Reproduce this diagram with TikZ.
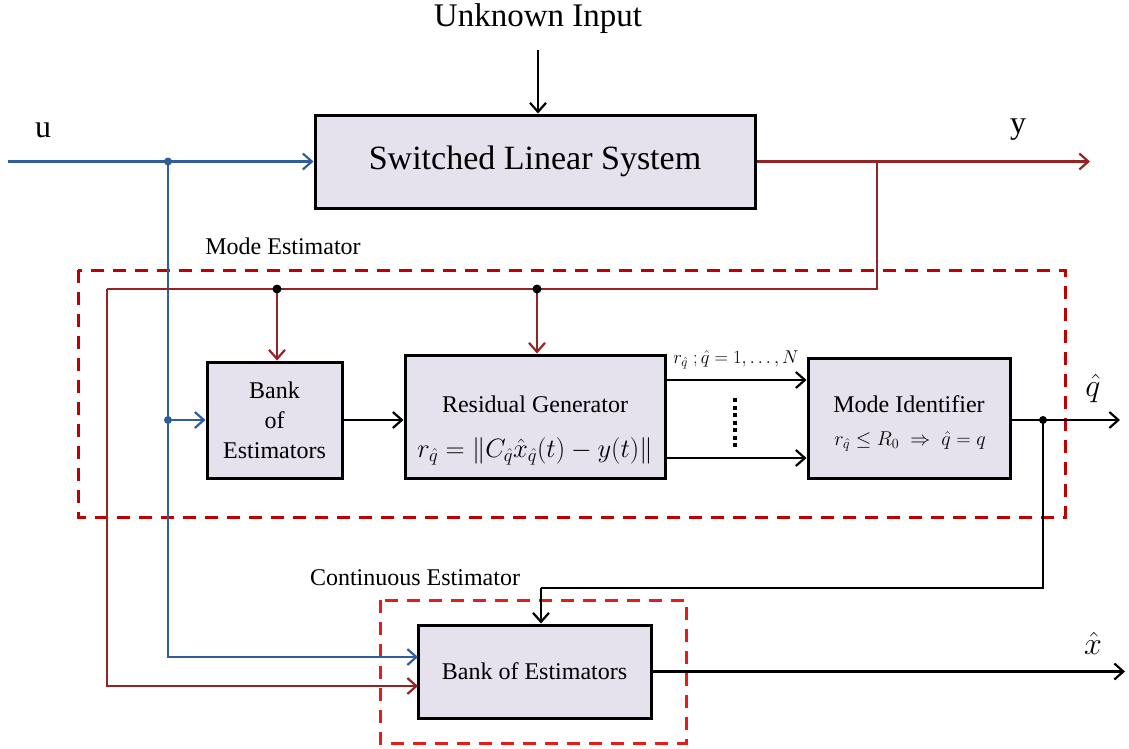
\RequirePackage{fix-cm}
\documentclass[tikz,border=0pt]{standalone}
\usepackage{fontspec}
\setmainfont{Liberation Serif}
\usetikzlibrary{arrows.meta}
\definecolor{boxfill}{RGB}{229,225,237}
\definecolor{ublue}{RGB}{46,95,155}
\definecolor{yred}{RGB}{150,35,35}
\definecolor{mered}{RGB}{192,0,0}
\definecolor{cered}{RGB}{228,28,28}
\tikzset{
  blk/.style={draw=black, line width=3pt, fill=boxfill, inner sep=0pt, align=center, font=\fontsize{24}{30}\selectfont},
  conn/.style={line width=2.2pt, -{Straight Barb[length=9pt,width=16pt]}},
  line/.style={line width=2.2pt},
  dot/.style={circle, fill, inner sep=0pt, minimum size=8pt},
  lbl/.style={font=\fontsize{24}{29}\selectfont, inner sep=0pt},
  big/.style={font=\fontsize{32}{38}\selectfont, inner sep=0pt},
  dbox/.style={line width=3pt, dash pattern=on 13pt off 9pt},
}
\begin{document}
\begin{tikzpicture}[x=1pt, y=-1pt]
\useasboundingbox (0,0) rectangle (1129,748);

% dashed regions
\draw[dbox, mered] (78,270) rectangle (1065,517);
\draw[dbox, cered] (380,600) rectangle (686,743);

% blocks
\node[blk, minimum width=440pt, minimum height=93pt, font=\fontsize{34}{40}\selectfont] (sls) at (535,161.5) {Switched Linear System};
\node[blk, minimum width=135pt, minimum height=116pt] (bank1) at (274.5,420) {Bank\\of\\Estimators};
\node[blk, minimum width=260pt, minimum height=123pt] (resid) at (535,416.5) {};
\node[lbl] (residt) at (535,404) {Residual Generator};
\node[inner sep=0pt, font=\fontsize{26.5}{31}\selectfont] (residf) at (535,451) {$r_{\hat q} = \left\| C_{\hat q}\hat x_{\hat q}(t) - y(t)\right\|$};
\node[blk, minimum width=202pt, minimum height=120pt] (modeid) at (909,418) {};
\node[lbl] (modet) at (909,404) {Mode Identifier};
\node[inner sep=0pt, font=\fontsize{20}{24}\selectfont] (modef) at (910,441) {$r_{\hat q} \le R_0 \;\Rightarrow\; \hat q = q$};
\node[blk, minimum width=233pt, minimum height=93pt] (bank2) at (534.5,671.5) {Bank of Estimators};

% labels
\node[big, font=\fontsize{33}{38}\selectfont] (ui) at (538,19) {Unknown Input};
\node[big] (ulbl) at (43,130) {u};
\node[big] (ylbl) at (1018,130) {y};
\node[lbl] (melbl) at (283,246) {Mode Estimator};
\node[lbl] (celbl) at (415,578) {Continuous Estimator};
\node[inner sep=0pt, font=\fontsize{18.5}{22}\selectfont] (rlbl) at (736,360) {$r_{\hat q}\;;\hat q = 1,\ldots,N$};
\node[big] (qlbl) at (1093,388) {$\hat q$};
\node[big] (xlbl) at (1093,643) {$\hat x$};

% coordinates
\coordinate (uiA) at (538,50);
\coordinate (uin) at (8,161.5);
\coordinate (ud) at (168,161.5);
\coordinate (ub) at (168,420);
\coordinate (b2u) at (418,657);
\coordinate (yb) at (877,161.5);
\coordinate (yout) at (1090,161.5);
\coordinate (yc1) at (877,289);
\coordinate (yc2) at (107,289);
\coordinate (b2y) at (418,686);
\coordinate (yd1) at (277,289);
\coordinate (yd2) at (537,289);
\coordinate (r1) at (735,380);
\coordinate (r2) at (735,458);
\coordinate (qd) at (1043,420);
\coordinate (qout) at (1120,420);
\coordinate (qc1) at (1043,588);
\coordinate (qc2) at (541,588);
\coordinate (xout) at (1125,671.5);

% unknown input
\draw[conn] (uiA) -- (uiA |- sls.north);

% u connectors
\draw[conn, ublue] (uin) -- (sls.west);
\draw[conn, ublue] (ud) |- (b2u);
\draw[conn, ublue] (ub) -- (bank1.west |- ub);
\node[dot, ublue] at (ud) {};
\node[dot, ublue] at (ub) {};

% y connectors
\draw[conn, yred] (sls.east) -- (yout);
\draw[line, yred] (yb) -- (yc1) -- (yc2);
\draw[conn, yred] (yc2) |- (b2y);
\draw[conn, yred] (yd1) -- (yd1 |- bank1.north);
\draw[conn, yred] (yd2) -- (yd2 |- resid.north);
\node[dot, black, minimum size=9pt] at (yd1) {};
\node[dot, black, minimum size=9pt] at (yd2) {};

% internal
\draw[conn] (bank1.east) -- (bank1.east -| resid.west);
\draw[conn] (resid.east |- r1) -- (modeid.west |- r1);
\draw[conn] (resid.east |- r2) -- (modeid.west |- r2);
\draw[line width=4pt, dash pattern=on 4pt off 3.5pt] (735,398) -- (735,448);

% q hat
\draw[conn] (modeid.east |- qd) -- (qout);
\draw[line] (qd) -- (qc1) -- (qc2);
\draw[conn] (qc2) -- (qc2 |- bank2.north);
\node[dot, black] at (qd) {};

% x hat
\draw[conn] (bank2.east) -- (xout);
\end{tikzpicture}
\end{document}
